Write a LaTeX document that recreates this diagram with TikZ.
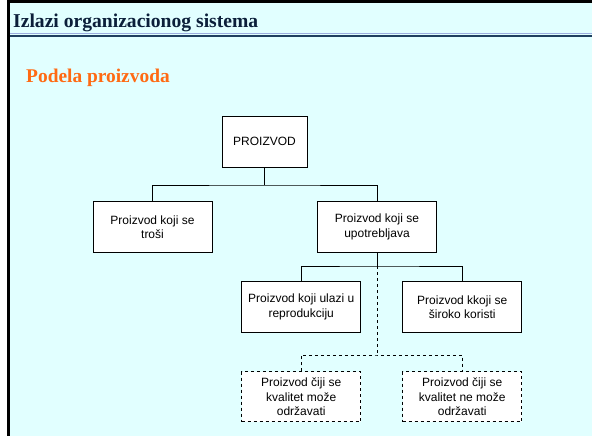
\documentclass[tikz,border=0pt]{standalone}
\usepackage{fontspec}
\setmainfont{Liberation Serif}
\newfontfamily\boxfont{Liberation Sans}
\definecolor{slidebg}{HTML}{E1FFFF}
\definecolor{titlecol}{HTML}{0B1F3A}
\definecolor{subcol}{HTML}{FF6A13}
\definecolor{rulecol}{HTML}{1F3F5F}

\begin{document}
\begin{tikzpicture}[
		base/.style={draw, fill=white, line width=0.7pt, minimum width=119pt, minimum height=51pt,
			align=center, font=\boxfont\fontsize{12pt}{14.3pt}\selectfont},
		dbase/.style={base, dashed},
		link/.style={draw, line width=0.9pt},
		dlink/.style={link, dashed}
	]

	\useasboundingbox (0pt, 0pt) rectangle (592pt, -436pt);
	\fill[slidebg] (9pt, -2pt) rectangle (592pt, -436pt);
	\draw[line width=2.5pt] (8.5pt, -436pt) -- (8.5pt, -1.5pt) -- (592pt, -1.5pt);
	\draw[line width=1pt, cyan!40!blue!40] (10pt, -34pt) -- (592pt, -34pt);
	\draw[line width=1.6pt, rulecol] (10pt, -36.3pt) -- (592pt, -36.3pt);

	\node[anchor=base west, text=titlecol, font=\fontsize{19.6pt}{22pt}\bfseries, inner sep=0pt]
		at (13pt, -28pt) (title) {Izlazi organizacionog sistema};
	\node[anchor=base west, text=subcol, font=\fontsize{19.4pt}{22pt}\bfseries, inner sep=0pt]
		at (26pt, -82pt) (subtitle) {Podela proizvoda};

	\node[base, minimum width=85pt] at (264.5pt, -141.5pt) (proizvod) {PROIZVOD};
	\node[base] at (152.5pt, -227pt) (trosi) {Proizvod koji se\\troši};
	\node[base] at (377pt, -227pt) (upotreba) {Proizvod koji se\\upotrebljava};
	\node[base] at (301.2pt, -307pt) (reprod) {Proizvod koji ulazi u\\reprodukciju};
	\node[base] at (462.2pt, -307pt) (siroko) {Proizvod kkoji se\\široko koristi};
	\node[dbase, minimum height=50pt] at (301.2pt, -396.7pt) (moze)
		{Proizvod čiji se\\kvalitet može\\održavati};
	\node[dbase, minimum height=50pt] at (462.2pt, -396.7pt) (nemoze)
		{Proizvod čiji se\\kvalitet ne može\\održavati};

	\coordinate (j1) at (264.5pt, -185pt);
	\coordinate (j2) at (377pt, -266pt);
	\coordinate (j3) at (377pt, -355pt);

	\draw[link] (proizvod) -- (j1);
	\draw[link] (trosi.north) |- (j1) -| (upotreba.north);
	\draw[link] (upotreba) -- (j2);
	\draw[link] (reprod.north) |- (j2) -| (siroko.north);
	\draw[dlink] (j2) -- (j3);
	\draw[dlink] (moze.north) |- (j3) -| (nemoze.north);

\end{tikzpicture}
\end{document}
